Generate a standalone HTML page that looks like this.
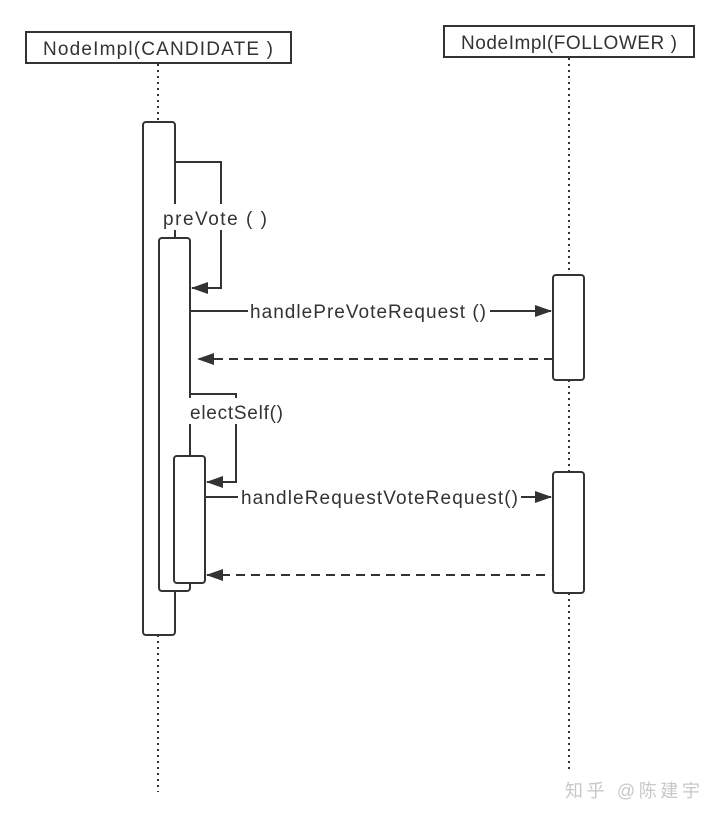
<!DOCTYPE html>
<html><head><style>html,body{margin:0;padding:0;background:#fff}svg{display:block}</style></head>
<body>
<svg width="720" height="817" viewBox="0 0 720 817" xmlns="http://www.w3.org/2000/svg" font-family="Liberation Sans, sans-serif" font-size="19" fill="#333">
<defs>
<marker id="a" markerWidth="18" markerHeight="12" refX="16" refY="6" orient="auto" markerUnits="userSpaceOnUse"><path d="M0,0 L17,6 L0,12 z" fill="#333"/></marker>
</defs>
<g stroke="#333" stroke-width="2" fill="none">
<rect x="26" y="32" width="265" height="31" fill="#fff"/>
<rect x="444" y="26" width="250" height="31" fill="#fff"/>
<line x1="158" y1="64" x2="158" y2="122" stroke-dasharray="2,4"/>
<line x1="158" y1="635" x2="158" y2="792" stroke-dasharray="2,4"/>
<line x1="569" y1="58" x2="569" y2="275" stroke-dasharray="2,4"/>
<line x1="569" y1="380" x2="569" y2="472" stroke-dasharray="2,4"/>
<line x1="569" y1="593" x2="569" y2="770" stroke-dasharray="2,4"/>
<rect x="143" y="122" width="32" height="513" rx="3" fill="#fff"/>
<rect x="159" y="238" width="31" height="353" rx="3" fill="#fff"/>
<rect x="553" y="275" width="31" height="105" rx="3" fill="#fff"/>
<rect x="553" y="472" width="31" height="121" rx="3" fill="#fff"/>
<polyline points="175,162 221,162 221,288 192,288" marker-end="url(#a)"/>
<polyline points="190,394 236,394 236,482 207,482" marker-end="url(#a)"/>
<rect x="174" y="456" width="31" height="127" rx="3" fill="#fff"/>
<line x1="190" y1="311" x2="551" y2="311" marker-end="url(#a)"/>
<line x1="553" y1="359" x2="198" y2="359" stroke-dasharray="9,6" marker-end="url(#a)"/>
<line x1="205" y1="497" x2="551" y2="497" marker-end="url(#a)"/>
<line x1="545" y1="575" x2="207" y2="575" stroke-dasharray="9,6" marker-end="url(#a)"/>
</g>
<g stroke="none">
<rect x="160" y="204" width="112" height="26" fill="#fff"/>
<rect x="186" y="398" width="100" height="26" fill="#fff"/>
<rect x="248" y="298" width="242" height="26" fill="#fff"/>
<rect x="238" y="484" width="283" height="26" fill="#fff"/>
</g>
<text x="158" y="55" text-anchor="middle" textLength="230">NodeImpl(CANDIDATE )</text>
<text x="569" y="49" text-anchor="middle" textLength="216">NodeImpl(FOLLOWER )</text>
<text x="163" y="225" textLength="104">preVote  ( )</text>
<text x="190" y="419" textLength="93">electSelf()</text>
<text x="250" y="318" textLength="236">handlePreVoteRequest ()</text>
<text x="241" y="504" textLength="277">handleRequestVoteRequest()</text>
<text x="565" y="797" font-size="18" fill="#c8c8c8" textLength="135" font-family="Liberation Sans, Noto Sans CJK SC, sans-serif">知乎 @陈建宇</text>
</svg>
</body></html>
